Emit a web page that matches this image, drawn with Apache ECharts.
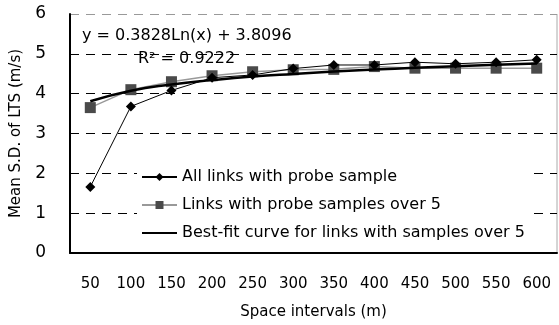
<!DOCTYPE html>
<html>
<head>
<meta charset="utf-8">
<script src="https://cdn.jsdelivr.net/npm/echarts@6/dist/echarts.min.js"></script>
<style>
  html, body { margin: 0; padding: 0; background: #fff; }
  #chart { width: 559px; height: 325px; }
</style>
</head>
<body>
<div id="chart"></div>
<script>
// 데이터
var intervals = ['50', '100', '150', '200', '250', '300', '350', '400', '450', '500', '550', '600'];
var allLinks = [1.66, 3.68, 4.08, 4.40, 4.47, 4.63, 4.72, 4.72, 4.79, 4.75, 4.79, 4.85];
var over5 = [3.65, 4.10, 4.30, 4.45, 4.55, 4.60, 4.61, 4.68, 4.64, 4.64, 4.64, 4.64];
var bestFit = [3.81, 4.075, 4.23, 4.34, 4.43, 4.496, 4.554, 4.605, 4.65, 4.69, 4.727, 4.76];
var seriesNames = [
    'All links with probe sample',
    'Links with probe samples over 5',
    'Best-fit curve for links with samples over 5'
];

var font = '"DejaVu Sans", sans-serif';
var chart = echarts.init(document.getElementById('chart'));

var option = {
    animation: false,
    textStyle: { fontFamily: font, color: '#000' },
    grid: { left: 70, top: 14, right: 2, bottom: 72, outerBoundsMode: 'none' },
    legend: {
        orient: 'vertical',
        left: 137,
        top: 167,
        itemWidth: 35,
        itemHeight: 10,
        itemGap: 12,
        backgroundColor: '#fff',
        padding: [2, 6, 2, 4],
        textStyle: { fontFamily: font, fontSize: 16, color: '#000' },
        data: [
            seriesNames[0],
            seriesNames[1],
            { name: seriesNames[2], itemStyle: { opacity: 0 } }
        ]
    },
    xAxis: {
        type: 'category',
        data: intervals,
        boundaryGap: true,
        name: 'Space intervals (m)',
        nameLocation: 'middle',
        nameGap: 52,
        nameTextStyle: { fontFamily: font, fontSize: 15, color: '#000' },
        axisLine: { lineStyle: { color: '#000', width: 2 } },
        axisTick: { inside: true, length: 5, lineStyle: { color: '#000' } },
        axisLabel: { margin: 24, fontSize: 15, color: '#000', fontFamily: font }
    },
    yAxis: {
        type: 'value',
        min: 0,
        max: 6,
        interval: 1,
        name: 'Mean S.D. of LTS (m/s)',
        nameLocation: 'middle',
        nameGap: 46,
        nameTextStyle: { fontFamily: font, fontSize: 15, color: '#000' },
        axisLine: { show: true, lineStyle: { color: '#000', width: 2 } },
        axisTick: { show: false },
        axisLabel: { margin: 24, fontSize: 17, color: '#000', fontFamily: font },
        splitLine: {
            show: true,
            lineStyle: {
                color: ['#000', '#000', '#000', '#000', '#000', '#000', '#999'],
                type: [9, 7],
                width: 1
            }
        }
    },
    graphic: [
        {
            type: 'line',
            shape: { x1: 557, y1: 14, x2: 557, y2: 253 },
            style: { stroke: '#aaa', lineWidth: 1 }
        },
        {
            type: 'text',
            left: 82,
            top: 28,
            style: { text: 'y = 0.3828Ln(x) + 3.8096', fontSize: 16, fontFamily: font, fill: '#000' }
        },
        {
            type: 'text',
            left: 138,
            top: 51,
            style: { text: 'R² = 0.9222', fontSize: 16, fontFamily: font, fill: '#000' }
        }
    ],
    series: [
        {
            name: seriesNames[0],
            type: 'line',
            data: allLinks,
            symbol: 'diamond',
            symbolSize: 10,
            lineStyle: { color: '#000', width: 1 },
            itemStyle: { color: '#000' },
            z: 3
        },
        {
            name: seriesNames[1],
            type: 'line',
            data: over5,
            symbol: 'rect',
            symbolSize: 11,
            lineStyle: { color: '#999', width: 1.5 },
            itemStyle: { color: '#4a4a4a' },
            z: 2
        },
        {
            name: seriesNames[2],
            type: 'line',
            data: bestFit,
            smooth: true,
            symbol: 'none',
            lineStyle: { color: '#000', width: 2.5 },
            itemStyle: { color: '#000' },
            z: 4
        }
    ]
};
chart.setOption(option);
</script>
</body>
</html>
